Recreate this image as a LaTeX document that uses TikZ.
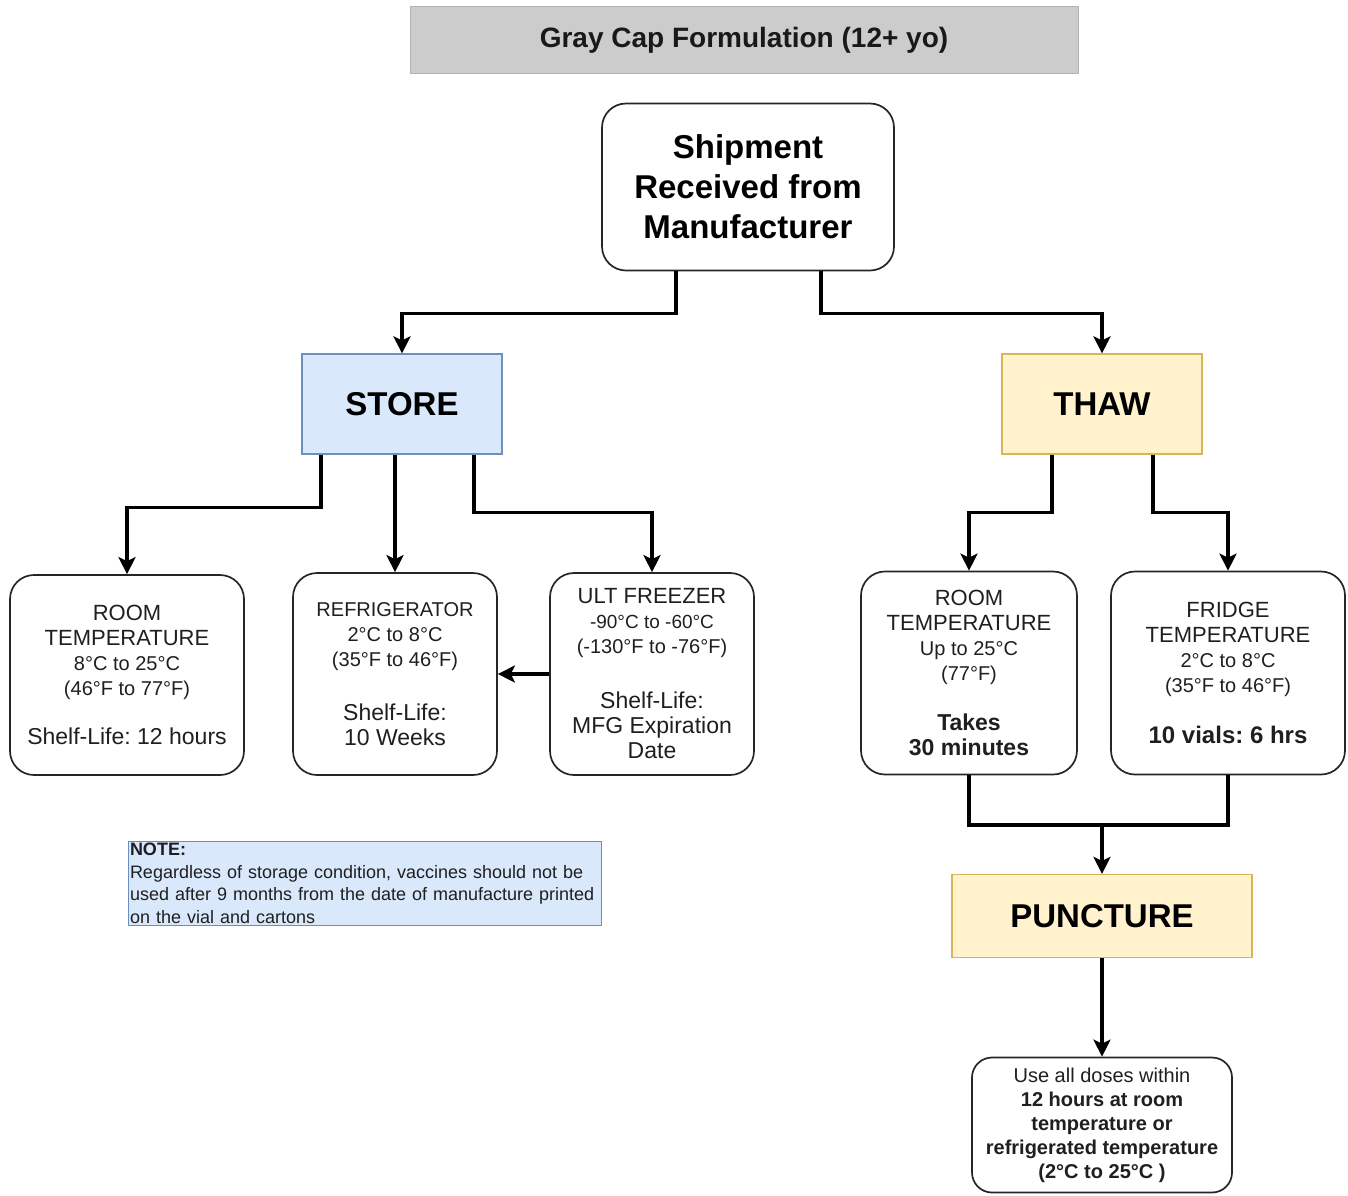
\documentclass[tikz,border=0pt]{standalone}
\usepackage{fontspec}
\setmainfont{Liberation Sans}
\usepackage{tikz}
\usetikzlibrary{arrows.meta,positioning}
\frenchspacing

\begin{document}
\begin{tikzpicture}[x=1pt,y=-1pt,
  box/.style={draw=black!85,line width=1.7pt,rounded corners=24pt,fill=white,
    align=center,inner sep=2pt,text=ink},
  phase/.style={line width=1.2pt,align=center,font=\bfseries\fontsize{33}{38}\selectfont,
    minimum width=200pt,minimum height=100pt,text=black},
  link/.style={line width=3.2pt},
  arr/.style={link,-{Stealth[length=17pt,width=17pt,inset=4pt]}}]
\definecolor{storefill}{HTML}{DAE8FC} \definecolor{storeline}{HTML}{6C8EBF}
\definecolor{thawfill}{HTML}{FFF2CC} \definecolor{thawline}{HTML}{D6B656}
\definecolor{capfill}{HTML}{CCCCCC} \definecolor{capline}{HTML}{B3B3B3}
\colorlet{ink}{black!88}
\def\boxfont{\fontsize{20}{25}\selectfont}
\def\headfont{\fontsize{22}{26}\selectfont}
\def\lifefont{\fontsize{23}{27}\selectfont}
\def\degC{°C} \def\degF{°F}
\useasboundingbox (0,0) rectangle (1348,1195);
% title and source
\node [draw=capline,fill=capfill,line width=1pt,minimum width=668pt,minimum height=67pt,
  font=\bfseries\fontsize{28}{32}\selectfont,text=black!90] (title) at (744,40) {Gray Cap Formulation (12+ yo)};
\node [box,minimum width=292pt,minimum height=167pt,font=\bfseries\fontsize{33}{40}\selectfont,text=black]
  (ship) at (748,187) {Shipment\\Received from\\Manufacturer};
% the two branches
\node [phase,draw=storeline,fill=storefill] (store) at (402,404) {STORE};
\node [phase,draw=thawline,fill=thawfill] (thaw) at (1102,404) {THAW};
% storage boxes
\node [box,minimum width=234pt,minimum height=200pt,font=\boxfont] (room) at (127,675)
  {{\headfont ROOM}\\{\headfont TEMPERATURE}\\8\degC{} to 25\degC\\(46\degF{} to 77\degF)\\[24pt]{\lifefont Shelf-Life: 12 hours}};
\node [box,minimum width=204pt,minimum height=202pt,font=\boxfont] (fridge) at (395,674)
  {REFRIGERATOR\\2\degC{} to 8\degC\\(35\degF{} to 46\degF)\\[29pt]{\lifefont Shelf-Life:}\\{\lifefont 10 Weeks}};
\node [box,minimum width=204pt,minimum height=202pt,font=\boxfont] (ult) at (652,674)
  {{\headfont ULT FREEZER}\\{\fontsize{19}{25}\selectfont -90\degC{} to -60\degC}\\(-130\degF{} to -76\degF)\\[30pt]
  {\lifefont Shelf-Life:}\\{\lifefont MFG Expiration}\\{\lifefont Date}};
% thawing boxes
\node [box,minimum width=216pt,minimum height=203pt,font=\boxfont] (roomthaw) at (969,673)
  {{\headfont ROOM}\\{\headfont TEMPERATURE}\\Up to 25\degC\\(77\degF)\\[25pt]{\bfseries\lifefont Takes}\\{\bfseries\lifefont 30 minutes}};
\node [box,minimum width=234pt,minimum height=203pt,font=\boxfont] (fridgethaw) at (1228,673)
  {{\headfont FRIDGE}\\{\headfont TEMPERATURE}\\2\degC{} to 8\degC\\(35\degF{} to 46\degF)\\[26pt]{\bfseries\fontsize{24}{28}\selectfont 10 vials: 6 hrs}};
\node [phase,draw=thawline,fill=thawfill,minimum width=300pt,minimum height=83pt] (punct) at (1102,916) {PUNCTURE};
\node [box,minimum width=260pt,minimum height=135pt,rounded corners=20pt,font=\fontsize{20}{24}\selectfont]
  (use) at (1102,1125) {Use all doses within\\\textbf{12 hours at room}\\\textbf{temperature or}\\
  \textbf{refrigerated temperature}\\\textbf{(2\degC{} to 25\degC{} )}};
% note
\node [draw=storeline,fill=storefill,line width=1pt,anchor=north west,text width=470pt,
  minimum height=84pt,inner sep=1.5pt,align=left,text=ink,font=\fontsize{18}{22.5}\selectfont]
  (note) at (128,841) {\textbf{NOTE:}\\Regardless of storage condition, vaccines should not be\\
  used after 9 months from the date of manufacture printed\\on the vial and cartons};
% connectors
\draw [arr] ([xshift=-72pt]ship.south) -- ++(0,42) -| (store.north);
\draw [arr] ([xshift=73pt]ship.south) -- ++(0,42) -| (thaw.north);
\draw [arr] ([xshift=-81pt]store.south) -- ++(0,53) -| (room.north);
\draw [arr] (store.south -| fridge.north) -- (fridge.north);
\draw [arr] ([xshift=72pt]store.south) -- ++(0,58) -| (ult.north);
\draw [arr] (ult.west) -- (fridge.east);
\draw [arr] ([xshift=-50pt]thaw.south) -- ++(0,58) -| (roomthaw.north);
\draw [arr] ([xshift=51pt]thaw.south) -- ++(0,58) -| (fridgethaw.north);
\coordinate (merge) at (1102,825);
\draw [link] (roomthaw.south) |- (merge) -| (fridgethaw.south);
\draw [arr] (merge) -- (punct.north);
\draw [arr] (punct.south) -- (use.north);
\end{tikzpicture}
\end{document}
